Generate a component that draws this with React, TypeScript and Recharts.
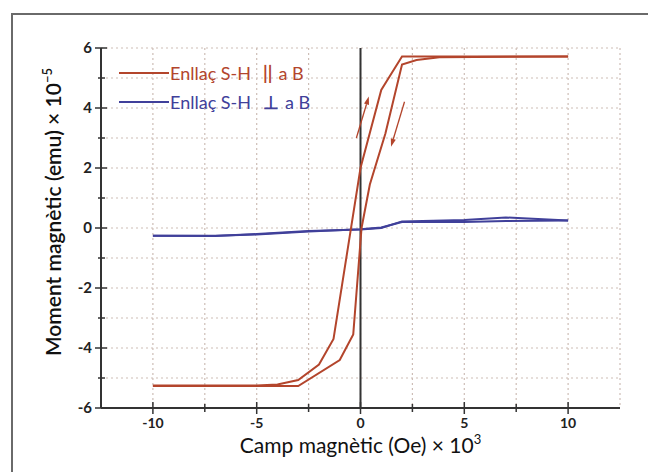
import React from "react";
import {
  LineChart,
  Line,
  XAxis,
  YAxis,
  CartesianGrid,
  ReferenceLine,
  Legend,
  Label,
} from "recharts";

const FONT = "Lato, 'Open Sans', sans-serif";
const RED = "#b3452c";
const BLUE = "#40409a";
const AXIS = "#333333";
const GRID = "#cdbdb6";

// camp en 10^3 Oe, moment en 10^-5 emu
const parUpX = [-10, -5, -4, -3, -2, -1.3, 0, 1, 1.4, 2, 10];
const parUpY = [-5.25, -5.25, -5.22, -5.07, -4.55, -3.7, 2.0, 4.6, 5.05, 5.72, 5.72];
const parDownX = [-10, -3, -1, -0.35, 0.05, 0.45, 1.2, 2, 2.7, 3.8, 10];
const parDownY = [-5.27, -5.27, -4.4, -3.55, 0, 1.45, 3.15, 5.45, 5.6, 5.69, 5.72];
const perpX = [-10, -7, -5, -2.5, 0, 1, 2, 5, 7, 10];
const perpUpY = [-0.26, -0.27, -0.2, -0.1, -0.05, 0, 0.22, 0.27, 0.35, 0.25];
const perpDownY = [-0.26, -0.26, -0.22, -0.12, -0.04, 0.02, 0.2, 0.2, 0.23, 0.25];

const xTicks = [-10, -7.5, -5, -2.5, 0, 2.5, 5, 7.5, 10];
const yTicks = [-6, -5, -4, -3, -2, -1, 0, 1, 2, 3, 4, 5, 6];

// fletxes de sentit del cicle
const arrowUp = [{ x: -0.2, y: 3.0 }, { x: 0.4, y: 4.38 }];
const arrowDown = [{ x: 2.12, y: 4.21 }, { x: 1.47, y: 2.71 }];

const legendItems = [
  { label: "Enllaç S-H", sym: "||", color: RED },
  { label: "Enllaç S-H", sym: "⊥", color: BLUE },
];

const zip = (xs: number[], ys: number[]) => xs.map((x, i) => ({ x, y: ys[i] }));

const BottomTick = (props: any) => {
  const { x, y, payload } = props;
  const v = payload.value;
  const major = v % 5 === 0;
  const len = major ? 6 : 4;
  return (
    <g>
      <line x1={x} x2={x} y1={y - len} y2={y + len} stroke={AXIS} strokeWidth={1.5} />
      {major && (
        <text x={x} y={y + 20} textAnchor="middle" fontFamily={FONT} fontSize={14} fontWeight={700} fill="#222">
          {v}
        </text>
      )}
    </g>
  );
};

const LeftTick = (props: any) => {
  const { x, y, payload } = props;
  const v = payload.value;
  const major = v % 2 === 0;
  return (
    <g>
      <line x1={x - (major ? 6 : 3)} x2={x + (major ? 6 : 4)} y1={y} y2={y} stroke={AXIS} strokeWidth={1.5} />
      {major && (
        <text x={x - 9} y={y} dy="0.36em" textAnchor="end" fontFamily={FONT} fontSize={15} fontWeight={700} fill="#222">
          {v}
        </text>
      )}
    </g>
  );
};

const TopTick = (props: any) => {
  const { x, y, payload } = props;
  const len = payload.value % 5 === 0 ? 7 : 5;
  return <line x1={x} x2={x} y1={y} y2={y + len} stroke={AXIS} strokeWidth={1.5} />;
};

const RightTick = (props: any) => {
  const { x, y, payload } = props;
  const len = payload.value % 2 === 0 ? 6 : 4;
  return <line x1={x - len} x2={x} y1={y} y2={y} stroke={AXIS} strokeWidth={1.5} />;
};

const Arrow = (p: any) => {
  const x1 = Number(p.x1);
  const y1 = Number(p.y1);
  const x2 = Number(p.x2);
  const y2 = Number(p.y2);
  const a = Math.atan2(y2 - y1, x2 - x1);
  const hl = 8;
  const hw = 2.6;
  const bx = x2 - hl * Math.cos(a);
  const by = y2 - hl * Math.sin(a);
  const pts = [
    [x2, y2],
    [bx + hw * Math.sin(a), by - hw * Math.cos(a)],
    [bx - hw * Math.sin(a), by + hw * Math.cos(a)],
  ]
    .map((q) => q.join(","))
    .join(" ");
  return (
    <g>
      <line x1={x1} y1={y1} x2={bx} y2={by} stroke={RED} strokeWidth={1.3} />
      <polygon points={pts} fill={RED} />
    </g>
  );
};

const XTitle = (props: any) => {
  const { viewBox } = props;
  const cx = viewBox.x + viewBox.width / 2;
  return (
    <text x={cx} y={453} textAnchor="middle" fontFamily={FONT} fontSize={21} fill="#111">
      Camp magnètic (Oe) × 10
      <tspan dy={-9} fontSize={13}>3</tspan>
    </text>
  );
};

const YTitle = () => (
  <text
    x={61}
    y={212}
    transform="rotate(-90, 61, 212)"
    textAnchor="middle"
    fontFamily={FONT}
    fontSize={21}
    fontWeight={600}
    fill="#111"
  >
    Moment magnètic (emu) × 10
    <tspan dy={-9} fontSize={13}>−5</tspan>
  </text>
);

const renderLegend = () => (
  <div style={{ fontFamily: FONT, fontSize: 18 }}>
    {legendItems.map((item, i) => (
      <div
        key={i}
        style={{ display: "flex", alignItems: "center", height: 28.5, color: item.color, whiteSpace: "nowrap" }}
      >
        <span style={{ display: "inline-block", width: 50, height: 2, background: item.color, marginRight: 1 }} />
        <span>{item.label}</span>
        <span style={{ marginLeft: 12, fontWeight: 700 }}>{item.sym}</span>
        <span style={{ marginLeft: 6 }}>a B</span>
      </div>
    ))}
  </div>
);

export default function App() {
  return (
    <div
      style={{
        position: "absolute",
        left: 0,
        top: 0,
        width: 648,
        height: 472,
        overflow: "hidden",
        background: "#fff",
      }}
    >
      <div
        style={{
          position: "absolute",
          left: 11,
          top: 13,
          width: 800,
          height: 800,
          border: "2px solid #6a6a6a",
        }}
      />
      <div style={{ position: "absolute", left: 0, top: 0 }}>
        <LineChart width={648} height={472} margin={{ top: 48, right: 28, left: 41, bottom: 24 }}>
          <CartesianGrid stroke={GRID} strokeDasharray="2 3" strokeWidth={1.2} />
          <XAxis
            dataKey="x"
            type="number"
            domain={[-12.5, 12.5]}
            ticks={xTicks}
            interval={0}
            allowDataOverflow
            height={40}
            tickSize={0}
            tickMargin={0}
            tickLine={false}
            tick={<BottomTick />}
            axisLine={{ stroke: AXIS, strokeWidth: 2 }}
          >
            <Label content={<XTitle />} />
          </XAxis>
          <XAxis
            xAxisId="top"
            orientation="top"
            dataKey="x"
            type="number"
            domain={[-12.5, 12.5]}
            ticks={xTicks}
            interval={0}
            allowDataOverflow
            height={0}
            tickSize={0}
            tickMargin={0}
            tickLine={false}
            tick={<TopTick />}
            axisLine={{ stroke: AXIS, strokeWidth: 2 }}
          />
          <YAxis
            type="number"
            domain={[-6, 6]}
            ticks={yTicks}
            interval={0}
            allowDataOverflow
            width={60}
            tickSize={0}
            tickMargin={0}
            tickLine={false}
            tick={<LeftTick />}
            axisLine={{ stroke: AXIS, strokeWidth: 2 }}
          >
            <Label content={<YTitle />} />
          </YAxis>
          <YAxis
            yAxisId="right"
            orientation="right"
            type="number"
            domain={[-6, 6]}
            ticks={yTicks}
            interval={0}
            allowDataOverflow
            width={0}
            tickSize={0}
            tickMargin={0}
            tickLine={false}
            tick={<RightTick />}
            axisLine={{ stroke: AXIS, strokeWidth: 2 }}
          />
          <ReferenceLine x={0} stroke={AXIS} strokeWidth={2} />
          <Line
            data={zip(perpX, perpUpY)}
            dataKey="y"
            type="linear"
            stroke={BLUE}
            strokeWidth={2}
            dot={false}
            isAnimationActive={false}
          />
          <Line
            data={zip(perpX, perpDownY)}
            dataKey="y"
            type="linear"
            stroke={BLUE}
            strokeWidth={2}
            dot={false}
            isAnimationActive={false}
          />
          <Line
            data={zip(parUpX, parUpY)}
            dataKey="y"
            type="linear"
            stroke={RED}
            strokeWidth={2}
            dot={false}
            isAnimationActive={false}
          />
          <Line
            data={zip(parDownX, parDownY)}
            dataKey="y"
            type="linear"
            stroke={RED}
            strokeWidth={2}
            dot={false}
            isAnimationActive={false}
          />
          <ReferenceLine segment={arrowUp} shape={Arrow} />
          <ReferenceLine segment={arrowDown} shape={Arrow} />
          <Legend
            layout="horizontal"
            verticalAlign="middle"
            align="center"
            content={renderLegend}
            wrapperStyle={{ position: "absolute", left: 119, top: 59, width: 240, height: 58 }}
          />
        </LineChart>
      </div>
    </div>
  );
}
